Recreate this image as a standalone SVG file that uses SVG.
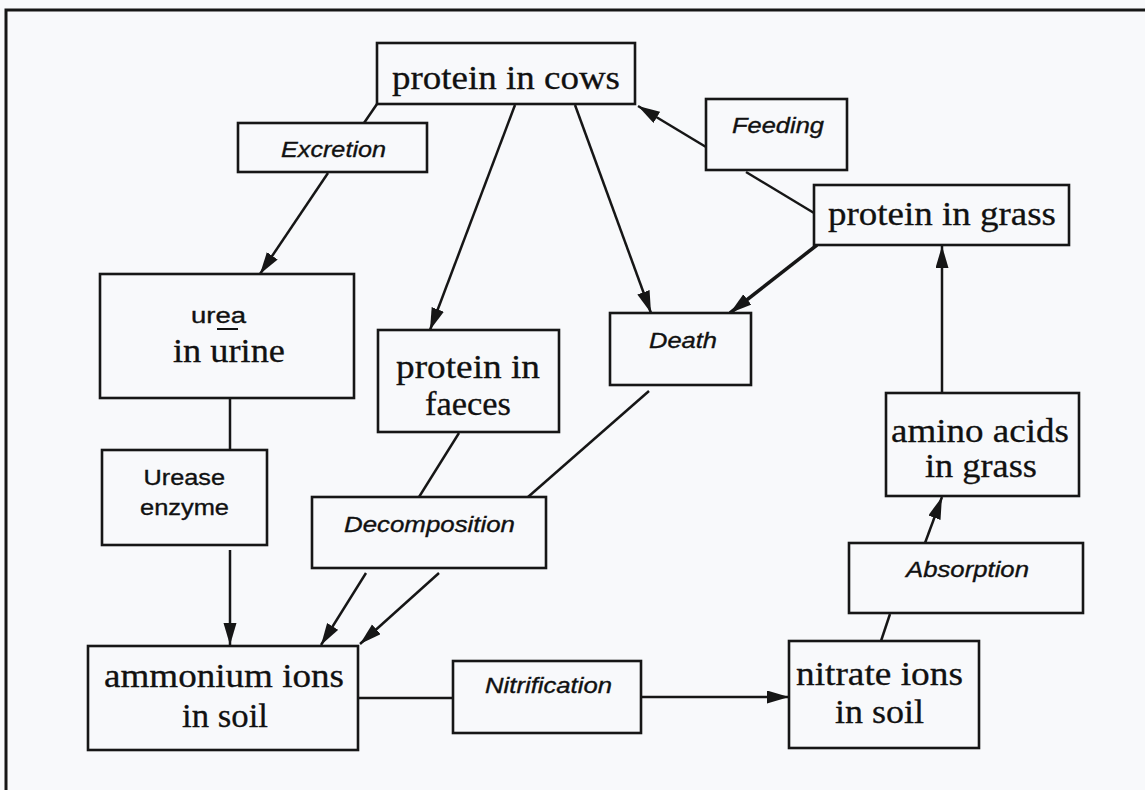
<svg xmlns="http://www.w3.org/2000/svg" width="1145" height="790" viewBox="0 0 1145 790">
<defs>
<style>
.bg{fill:#f8f9fb}
.box{fill:#f8f9fb;stroke:#161616;stroke-width:2.6}
.frame{stroke:#161616;stroke-width:3;fill:none}
.c{stroke:#161616;stroke-width:2.5;fill:none}
.c2{stroke:#161616;stroke-width:3.5;fill:none}
.s{font-family:"Liberation Serif","Times New Roman",serif;font-size:34px;fill:#111;stroke:#111;stroke-width:0.3}
.i{font-family:"Liberation Sans",Arial,sans-serif;font-style:italic;font-size:22px;fill:#111;stroke:#111;stroke-width:0.35}
.r{font-family:"Liberation Sans",Arial,sans-serif;font-size:22px;fill:#111;stroke:#111;stroke-width:0.35}
</style>
<marker id="ah" markerUnits="userSpaceOnUse" markerWidth="24" markerHeight="14" refX="22" refY="6.5" orient="auto">
<path d="M0,0 L22,6.5 L0,13 z" fill="#161616"/>
</marker>
</defs>
<rect class="bg" x="0" y="0" width="1145" height="790"/>
<path class="frame" d="M6,790 V10 H1145"/>

<g id="connectors">
<line class="c" x1="377" y1="104" x2="364" y2="123"/>
<line class="c" x1="328" y1="173" x2="260" y2="274" marker-end="url(#ah)"/>
<line class="c" x1="515" y1="105" x2="430" y2="330" marker-end="url(#ah)"/>
<line class="c" x1="575" y1="105" x2="651" y2="313" marker-end="url(#ah)"/>
<line class="c" x1="706" y1="147" x2="638" y2="106" marker-end="url(#ah)"/>
<line class="c" x1="814" y1="213" x2="746" y2="172"/>
<line class="c2" x1="817" y1="245" x2="730" y2="313" marker-end="url(#ah)"/>
<line class="c" x1="942" y1="393" x2="942" y2="246" marker-end="url(#ah)"/>
<line class="c" x1="925" y1="543" x2="942" y2="497" marker-end="url(#ah)"/>
<line class="c" x1="881" y1="641" x2="890" y2="614"/>
<line class="c" x1="642" y1="697" x2="789" y2="697" marker-end="url(#ah)"/>
<line class="c" x1="358" y1="698" x2="453" y2="698"/>
<line class="c" x1="230" y1="398" x2="230" y2="450"/>
<line class="c" x1="230" y1="550" x2="230" y2="645" marker-end="url(#ah)"/>
<line class="c" x1="459" y1="433" x2="419" y2="497"/>
<line class="c" x1="649" y1="391" x2="528" y2="497"/>
<line class="c" x1="366" y1="573" x2="321" y2="645" marker-end="url(#ah)"/>
<line class="c" x1="439" y1="573" x2="360" y2="644" marker-end="url(#ah)"/>
</g>

<g id="cows">
<rect class="box" x="377" y="43" width="258" height="61"/>
<text class="s" x="392" y="89" textLength="228" lengthAdjust="spacingAndGlyphs">protein in cows</text>
</g>
<g id="excretion">
<rect class="box" x="238" y="123" width="189" height="49"/>
<text class="i" x="281" y="157" textLength="105" lengthAdjust="spacingAndGlyphs">Excretion</text>
</g>
<g id="feeding">
<rect class="box" x="706" y="99" width="141" height="71"/>
<text class="i" x="732" y="133" textLength="92" lengthAdjust="spacingAndGlyphs">Feeding</text>
</g>
<g id="grass">
<rect class="box" x="814" y="185" width="255" height="60"/>
<text class="s" x="828" y="225" textLength="228" lengthAdjust="spacingAndGlyphs">protein in grass</text>
</g>
<g id="urea">
<rect class="box" x="100" y="274" width="254" height="124"/>
<text class="r" x="191" y="323" textLength="55" lengthAdjust="spacingAndGlyphs">urea</text>
<line x1="217" y1="329" x2="238" y2="329" stroke="#111" stroke-width="2"/>
<text class="s" x="173" y="362" textLength="112" lengthAdjust="spacingAndGlyphs">in urine</text>
</g>
<g id="faeces">
<rect class="box" x="378" y="330" width="181" height="102"/>
<text class="s" x="396" y="378" textLength="144" lengthAdjust="spacingAndGlyphs">protein in</text>
<text class="s" x="425" y="415" textLength="86" lengthAdjust="spacingAndGlyphs">faeces</text>
</g>
<g id="death">
<rect class="box" x="610" y="313" width="141" height="72"/>
<text class="i" x="649" y="348" textLength="68" lengthAdjust="spacingAndGlyphs">Death</text>
</g>
<g id="urease">
<rect class="box" x="102" y="450" width="165" height="95"/>
<text class="r" x="143.5" y="485" textLength="81.5" lengthAdjust="spacingAndGlyphs">Urease</text>
<text class="r" x="140" y="515" textLength="89" lengthAdjust="spacingAndGlyphs">enzyme</text>
</g>
<g id="decomposition">
<rect class="box" x="312" y="497" width="234" height="71"/>
<text class="i" x="344" y="532" textLength="171" lengthAdjust="spacingAndGlyphs">Decomposition</text>
</g>
<g id="ammonium">
<rect class="box" x="88" y="646" width="270" height="104"/>
<text class="s" x="104" y="687" textLength="240" lengthAdjust="spacingAndGlyphs">ammonium ions</text>
<text class="s" x="182" y="727" textLength="86" lengthAdjust="spacingAndGlyphs">in soil</text>
</g>
<g id="nitrification">
<rect class="box" x="453" y="661" width="188" height="72"/>
<text class="i" x="485" y="693" textLength="127" lengthAdjust="spacingAndGlyphs">Nitrification</text>
</g>
<g id="nitrate">
<rect class="box" x="789" y="641" width="190" height="107"/>
<text class="s" x="796" y="685" textLength="167" lengthAdjust="spacingAndGlyphs">nitrate ions</text>
<text class="s" x="835" y="723" textLength="89" lengthAdjust="spacingAndGlyphs">in soil</text>
</g>
<g id="absorption">
<rect class="box" x="849" y="543" width="234" height="70"/>
<text class="i" x="906" y="577" textLength="123" lengthAdjust="spacingAndGlyphs">Absorption</text>
</g>
<g id="amino">
<rect class="box" x="886" y="393" width="193" height="103"/>
<text class="s" x="891" y="442" textLength="178" lengthAdjust="spacingAndGlyphs">amino acids</text>
<text class="s" x="925" y="477" textLength="112" lengthAdjust="spacingAndGlyphs">in grass</text>
</g>
</svg>
